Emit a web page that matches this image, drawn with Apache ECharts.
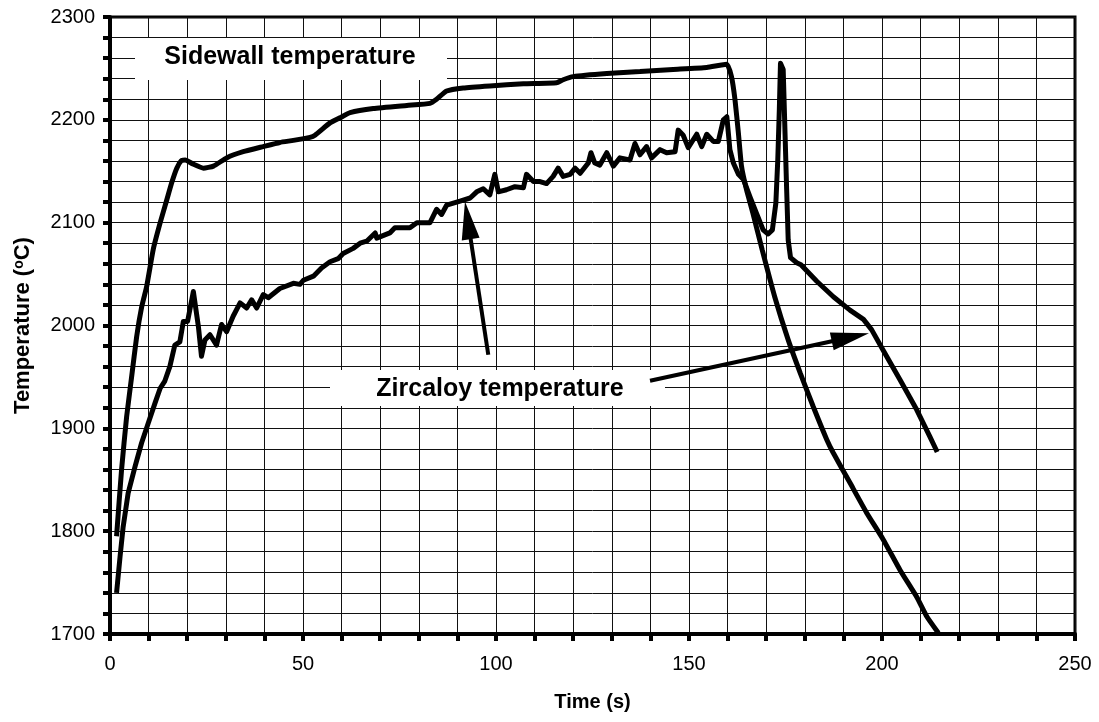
<!DOCTYPE html>
<html>
<head>
<meta charset="utf-8">
<script src="https://cdn.jsdelivr.net/npm/echarts@6/dist/echarts.min.js"></script>
<style>
html,body{margin:0;padding:0;background:#fff;}
#chart{width:1099px;height:722px;}
</style>
</head>
<body>
<div id="chart"></div>
<script>
// Sidewall temperature [time s, temperature °C]
var sidewall = [
[1.7,1795],[3.0,1860],[4.3,1911],[5.6,1950],[6.9,1989],[8.2,2018],[9.5,2038],[11.2,2074],[13,2100],[14.7,2122],[16,2139],[17.3,2153],[18.4,2160],[19.5,2161],[21.5,2157],[24.2,2153],[26.8,2155],[30.2,2163],[34.5,2169],[39.7,2174],[44,2178],[47.5,2180],[51.8,2183],[53.1,2185],[57,2197],[59.6,2202],[62.2,2207],[68.2,2211],[76.9,2214],[82.9,2216],[84.6,2220],[87.2,2228],[91.5,2231],[98.4,2233],[107.1,2235],[115.7,2236],[117.4,2239],[120,2242],[128.7,2245],[137.3,2247],[145.9,2249],[154.6,2251],[159.8,2254],[161,2242],[161.9,2220],[162.8,2187],[163.6,2155],[164.9,2132],[166.5,2110],[169,2073],[172.2,2028],[175.7,1986],[178.8,1954],[182.2,1921],[185.7,1889],[187.4,1876],[191.7,1847],[196,1818],[200.3,1792],[204.7,1762],[209,1736],[211.6,1717],[214.6,1701]
];
// Zircaloy temperature [time s, temperature °C]
var zircaloy = [
[1.7,1740],[2.6,1775],[3.4,1804],[4.7,1837],[6.5,1863],[8.2,1886],[9.9,1905],[11.7,1925],[13,1939],[14.2,1946],[15.5,1960],[16.8,1981],[18.1,1984],[19,2004],[20.1,2004],[21.6,2033],[22.9,1999],[23.7,1970],[24.6,1986],[25.9,1991],[27.6,1981],[28.9,2001],[30.2,1994],[31.9,2009],[33.7,2022],[35.4,2017],[36.7,2025],[38,2017],[39.7,2030],[41,2027],[44,2036],[47.5,2041],[49.2,2040],[50.1,2044],[52.7,2048],[54.8,2056],[57,2062],[59.1,2065],[60.4,2070],[63,2075],[64.8,2080],[66.5,2082],[68.7,2090],[69.1,2085],[72.5,2090],[73.8,2095],[76,2095],[77.7,2095],[79.5,2100],[82.9,2100],[84.6,2113],[85.9,2108],[87.2,2117],[90.7,2121],[93.3,2124],[95,2130],[96.7,2133],[98.4,2127],[99.7,2147],[100.6,2130],[102.7,2132],[104.9,2135],[107.1,2134],[107.9,2147],[109.7,2140],[111.4,2140],[113.1,2138],[114.8,2145],[116.1,2153],[117.4,2145],[119.2,2147],[120.5,2153],[121.8,2148],[123.9,2158],[124.6,2168],[125.6,2158],[126.9,2156],[128.7,2168],[130.4,2155],[132.1,2163],[134.7,2161],[136,2177],[137.3,2166],[139,2174],[140.3,2163],[142.5,2171],[144.2,2168],[146.4,2169],[147.2,2190],[148.5,2185],[149.8,2173],[152,2186],[153.3,2174],[154.6,2186],[156.3,2179],[157.6,2179],[158.9,2200],[159.8,2203],[160.6,2171],[161.5,2158],[162.8,2147],[164.1,2142],[165.8,2125],[167.5,2109],[169.2,2093],[170.5,2089],[171.6,2093],[172.5,2119],[173,2161],[173.4,2210],[173.7,2255],[174.4,2249],[174.8,2197],[175.3,2132],[175.7,2083],[176.3,2066],[177.9,2061],[179,2059],[183.1,2043],[187.4,2028],[191.7,2015],[195.2,2006],[197.3,1996],[200.3,1976],[204.7,1947],[209,1918],[212.4,1892],[214.3,1877]
];
// Annotation arrows: [tail, head] in data coordinates
var arrowToZircaloyRise = [[98.0,1971.5],[92.7,2102.3]];
var arrowToZircaloyFall = [[139.9,1946.2],[191.8,1988.5]];
// Axis ranges / tick settings
var xRange = [0, 250], xStep = 10, xLabelStep = 50;
var yRange = [1700, 2300], yStep = 20, yLabelStep = 100;
var xTitle = 'Time (s)';
var yTitle = 'Temperature ({sup|o}C)';
var labelSidewall = 'Sidewall temperature';
var labelZircaloy = 'Zircaloy temperature';

var FONT = "'Liberation Sans', Arial, Helvetica, sans-serif";
var chart = echarts.init(document.getElementById('chart'), null, {renderer:'canvas'});

function arrowLine(a){ return [{coord:a[0]},{coord:a[1]}]; }

var option = {
  animation: false,
  backgroundColor: '#fff',
  grid: {left:110, right:24, top:17, bottom:88, show:true, borderColor:'#000', borderWidth:3, backgroundColor:'transparent'},
  xAxis: {
    type:'value', min:xRange[0], max:xRange[1], interval:xStep,
    name: xTitle, nameLocation:'middle', nameGap:58,
    nameTextStyle:{fontFamily:FONT, fontSize:20, fontWeight:'bold', color:'#000'},
    axisLine:{show:true, onZero:false, lineStyle:{color:'#000', width:4}},
    axisTick:{show:true, inside:false, length:7, lineStyle:{color:'#000', width:4}},
    axisLabel:{fontFamily:FONT, fontSize:20, color:'#000', margin:20,
      formatter:function(v){ return (v % xLabelStep === 0) ? String(v) : ''; }},
    splitLine:{show:true, lineStyle:{color:'#111', width:1}}
  },
  yAxis: {
    type:'value', min:yRange[0], max:yRange[1], interval:yStep,
    name: yTitle, nameLocation:'middle', nameGap:76,
    nameTextStyle:{fontFamily:FONT, fontSize:22, fontWeight:'bold', color:'#000',
      rich:{sup:{fontFamily:FONT, fontSize:14, fontWeight:'bold', color:'#000', verticalAlign:'top'}}},
    axisLine:{show:true, onZero:false, lineStyle:{color:'#000', width:4}},
    axisTick:{show:true, inside:false, length:7, lineStyle:{color:'#000', width:4}},
    axisLabel:{fontFamily:FONT, fontSize:20, color:'#000', margin:15,
      formatter:function(v){ return (v % yLabelStep === 0) ? String(v) : ''; }},
    splitLine:{show:true, lineStyle:{color:'#111', width:1}}
  },
  graphic: [
    {type:'rect', z:5, shape:{x:135, y:38, width:312, height:42}, style:{fill:'#fff'}},
    {type:'text', z:6, x:290, y:57, style:{text:labelSidewall, font:"bold 25px 'Liberation Sans', Arial, sans-serif", fill:'#000', textAlign:'center', textVerticalAlign:'middle'}},
    {type:'rect', z:5, shape:{x:330, y:370, width:335, height:36}, style:{fill:'#fff'}},
    {type:'text', z:6, x:500, y:389, style:{text:labelZircaloy, font:"bold 25px 'Liberation Sans', Arial, sans-serif", fill:'#000', textAlign:'center', textVerticalAlign:'middle'}}
  ],
  series: [
    {type:'line', name:'Sidewall', data:sidewall, showSymbol:false, smooth:0.15, z:10,
      lineStyle:{color:'#000', width:5}, itemStyle:{color:'#000'}, clip:true},
    {type:'line', name:'Zircaloy', data:zircaloy, showSymbol:false, smooth:false, z:10,
      lineStyle:{color:'#000', width:5, join:'round'}, itemStyle:{color:'#000'}, clip:true,
      markLine:{silent:true, z:12, symbol:['none','triangle'], symbolSize:[18,38],
        label:{show:false}, emphasis:{disabled:true},
        lineStyle:{color:'#000', width:4, type:'solid'}, itemStyle:{color:'#000'},
        data:[arrowLine(arrowToZircaloyRise), arrowLine(arrowToZircaloyFall)]}}
  ]
};
chart.setOption(option);
</script>
</body>
</html>
